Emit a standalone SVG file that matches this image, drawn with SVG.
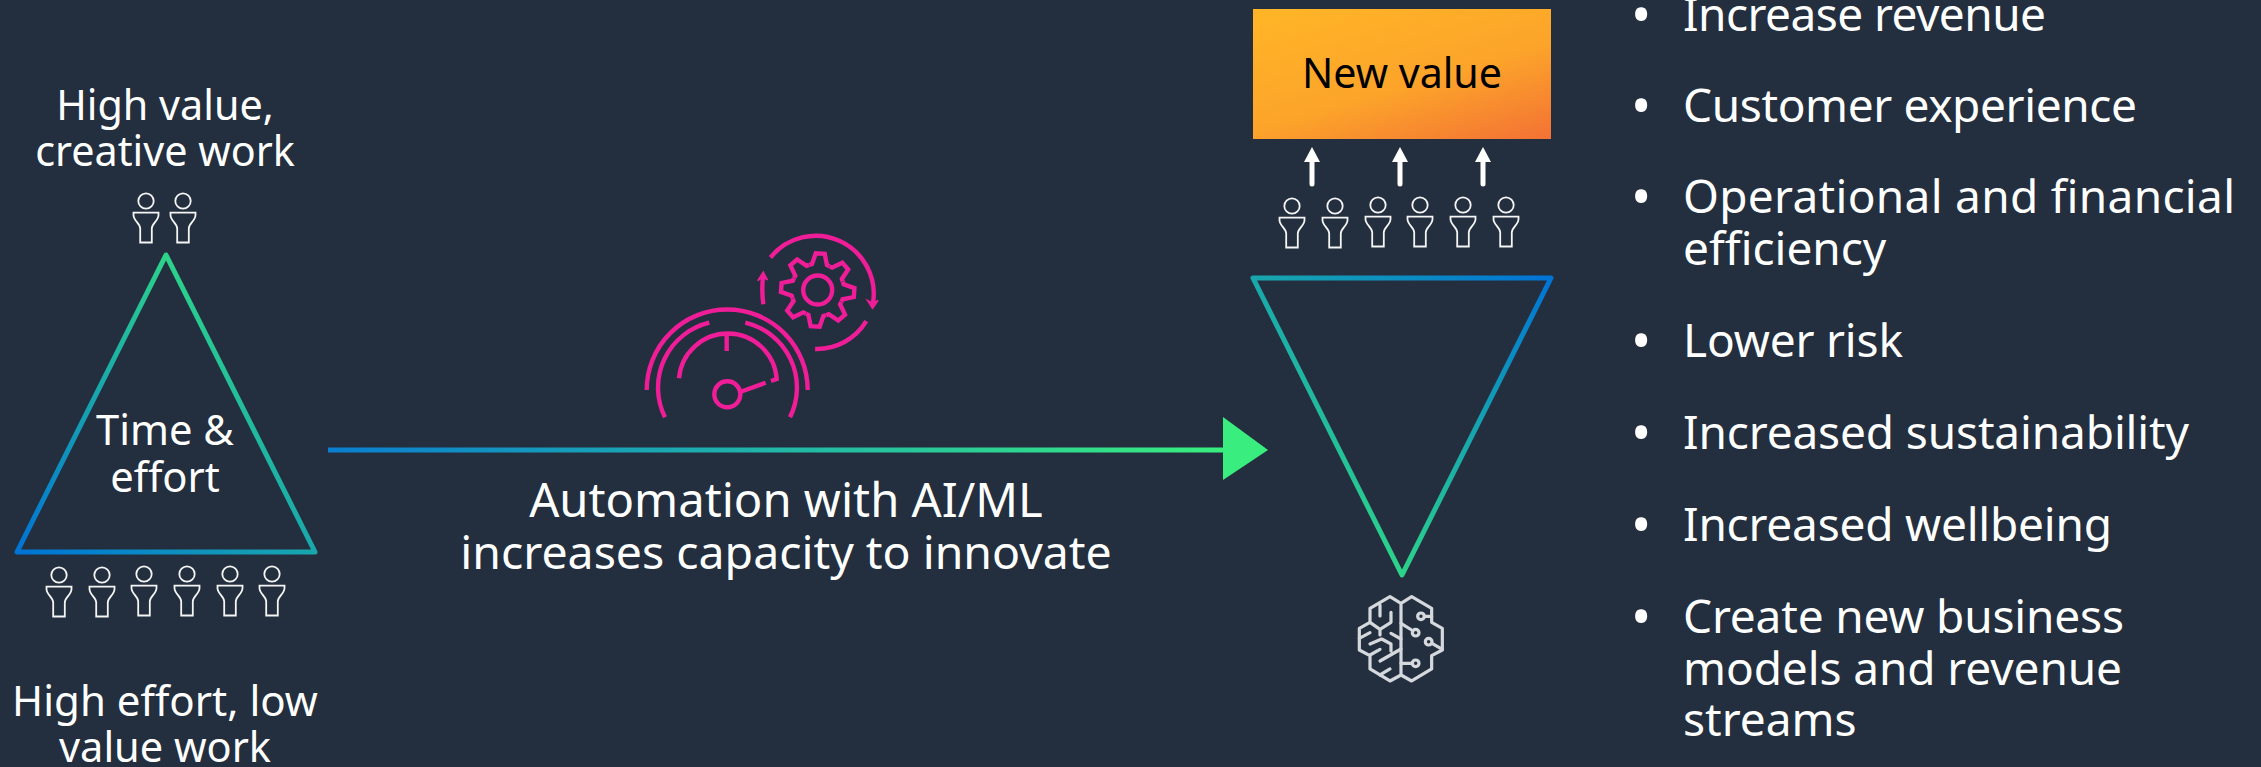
<svg xmlns="http://www.w3.org/2000/svg" width="2261" height="767" viewBox="0 0 2261 767">
<style>
.t{font-family:"Noto Sans","Open Sans","Liberation Sans",sans-serif;fill:#fff;text-anchor:middle}
.l{font-family:"Noto Sans","Open Sans","Liberation Sans",sans-serif;fill:#fff;font-size:46px}
.d{font-size:54px}
.p{fill:none;stroke:#f5f5f5;stroke-width:1.800}
.m{fill:none;stroke:#f01d98;stroke-width:4.400}
.b{fill:none;stroke:#d5d9de;stroke-width:9.600;stroke-linejoin:round;stroke-linecap:round}
</style>
<defs>
<linearGradient id="tri" gradientUnits="objectBoundingBox" x1="0" y1="1" x2="0.75" y2="0"><stop offset="0" stop-color="#0073d6"/><stop offset="1" stop-color="#33e07f"/></linearGradient>
<linearGradient id="tri2" gradientUnits="objectBoundingBox" x1="1" y1="0" x2="0.25" y2="1"><stop offset="0" stop-color="#0073d6"/><stop offset="1" stop-color="#33e07f"/></linearGradient>
<linearGradient id="ln" gradientUnits="userSpaceOnUse" x1="328" y1="450" x2="1225" y2="450"><stop offset="0" stop-color="#0a7ed0"/><stop offset="1" stop-color="#39ee7e"/></linearGradient>
<linearGradient id="or" x1="0.2" y1="0" x2="0.95" y2="1.100"><stop offset="0" stop-color="#ffb327"/><stop offset="0.500" stop-color="#fca42a"/><stop offset="1" stop-color="#f26d35"/></linearGradient>
<g id="person"><circle class="p" cx="0" cy="0" r="7.700"/><path class="p" d="M-12.500 11.700H12.500V14C12.500 20 5.800 22 5.800 27.500V41.500H-5.800V27.500C-5.800 22-12.500 20-12.500 14Z"/></g>
<polyline id="tooth" class="m" points="-10,-24.500 -7.500,-25.500 -4.500,-36.500 4.500,-36.500 7.500,-25.500 10,-24.500"/>
</defs>
<rect width="2261" height="767" fill="#232f3e"/>
<g id="connectors">
<path d="M328 450H1225" fill="none" stroke="url(#ln)" stroke-width="5"/>
<polygon points="1223,417 1268,450 1223,480" fill="#39ee7e"/>
<g fill="#fff"><path d="M1312 147l8 15h-5.500v22a2.500 2.500 0 0 1-5 0v-22h-5.500z"/><path d="M1400 147l8 15h-5.500v22a2.500 2.500 0 0 1-5 0v-22h-5.500z"/><path d="M1483 147l8 15h-5.500v22a2.500 2.500 0 0 1-5 0v-22h-5.500z"/></g>
</g>
<g id="triangle-left"><polygon points="166,255 17,552 315,552" fill="none" stroke="url(#tri)" stroke-width="5" stroke-linejoin="round"/>
<text class="t" font-size="41.700" x="165" y="445">Time &amp;</text><text class="t" font-size="41.700" x="165" y="492">effort</text></g>
<g id="label-high-value"><text class="t" font-size="41.300" x="165" y="120">High value,</text><text class="t" font-size="41.300" x="165" y="166">creative work</text></g>
<g id="people-top"><use href="#person" x="146" y="201"/><use href="#person" x="183" y="201"/></g>
<g id="people-bottom"><use href="#person" x="59" y="575"/><use href="#person" x="102" y="575"/><use href="#person" x="144" y="574"/><use href="#person" x="187" y="574"/><use href="#person" x="230" y="574"/><use href="#person" x="272" y="574"/></g>
<g id="label-high-effort"><text class="t" font-size="42" x="165" y="716">High effort, low</text><text class="t" font-size="41.500" x="165" y="762">value work</text></g>
<g id="gauge-icon">
<path class="m" d="M646.700 390A80.500 80.500 0 0 1 807.700 390"/>
<path class="m" d="M665 417.300A66.700 66.700 0 0 1 709.300 322.700M745.300 322.700A66.700 66.700 0 0 1 790 417.300"/>
<path class="m" d="M679 378.300A49 49 0 0 1 776.700 379L771 381"/>
<path class="m" d="M726.700 335V351M740.700 391.700L765.700 382.700"/>
<circle class="m" cx="727.300" cy="394.300" r="13"/>
<circle class="m" cx="817.700" cy="290" r="14.500"/>
<g transform="translate(817.700 290)"><use href="#tooth" transform="rotate(4)"/><use href="#tooth" transform="rotate(49)"/><use href="#tooth" transform="rotate(94)"/><use href="#tooth" transform="rotate(139)"/><use href="#tooth" transform="rotate(184)"/><use href="#tooth" transform="rotate(229)"/><use href="#tooth" transform="rotate(274)"/><use href="#tooth" transform="rotate(319)"/></g>
<path class="m" d="M770.500 257.500A58 58 0 0 1 873 303M866.300 321.200A58 58 0 0 1 815.100 349M763.300 304.300Q761.500 290 763 277"/>
<path fill="#f01d98" d="M867.500 300.500L873 303.500L878 300.500L872.500 308.500ZM757.700 280.700L763 277L767.500 280L763.300 272Z" stroke="#f01d98" stroke-width="1.500"/>
</g>
<g id="triangle-right"><polygon points="1253,278 1551,278 1402,575" fill="none" stroke="url(#tri2)" stroke-width="5" stroke-linejoin="round"/></g>
<g id="new-value"><rect x="1253" y="9" width="298" height="130" fill="url(#or)"/><text class="t" style="fill:#000" font-size="41.200" x="1402" y="88">New value</text></g>
<g id="people-right"><use href="#person" x="1292" y="206"/><use href="#person" x="1335" y="206"/><use href="#person" x="1378" y="205"/><use href="#person" x="1420" y="205"/><use href="#person" x="1463" y="205"/><use href="#person" x="1506" y="205"/></g>
<g id="brain-icon" transform="translate(1320 570) scale(0.3333)">
<g class="b">
<path d="M243 100L275 80L335 115V157L367 175V240L335 257V297L275 333L243 315V100L210 80L150 115V157L118 175V240L150 257V297L210 333L243 315"/>
<path d="M243 160L275 180M313 139H335M336 220L367 238M243 280H277"/>
<circle cx="287" cy="188" r="10"/><circle cx="303" cy="139" r="10"/><circle cx="326" cy="215" r="10"/><circle cx="287" cy="280" r="10"/>
<path d="M180 105V138M213 127V157L180 178L150 157M180 178V195M118 205L150 188M213 190L243 207M243 237L180 273M150 222L185 207L213 222V243M150 255L180 238M180 315L210 297"/>
</g></g>
<g id="label-automation"><text class="t" font-size="47.200" x="786" y="517">Automation with AI/ML</text><text class="t" font-size="46.400" x="786" y="569">increases capacity to innovate</text></g>
<g id="benefits">
<g class="l">
<text class="d" x="1631" y="34">•</text><text x="1683" y="31" textLength="363">Increase revenue</text>
<text class="d" x="1631" y="125">•</text><text x="1683" y="122" textLength="454">Customer experience</text>
<text class="d" x="1631" y="216">•</text><text x="1683" y="213" textLength="552">Operational and financial</text><text x="1683" y="265">efficiency</text>
<text class="d" x="1631" y="360">•</text><text x="1683" y="357" textLength="220">Lower risk</text>
<text class="d" x="1631" y="452">•</text><text x="1683" y="449" textLength="506">Increased sustainability</text>
<text class="d" x="1631" y="544">•</text><text x="1683" y="541" textLength="429">Increased wellbeing</text>
<text class="d" x="1631" y="636">•</text><text x="1683" y="633" textLength="441">Create new business</text><text x="1683" y="685" textLength="439">models and revenue</text><text x="1683" y="736">streams</text>
</g></g>
</svg>
